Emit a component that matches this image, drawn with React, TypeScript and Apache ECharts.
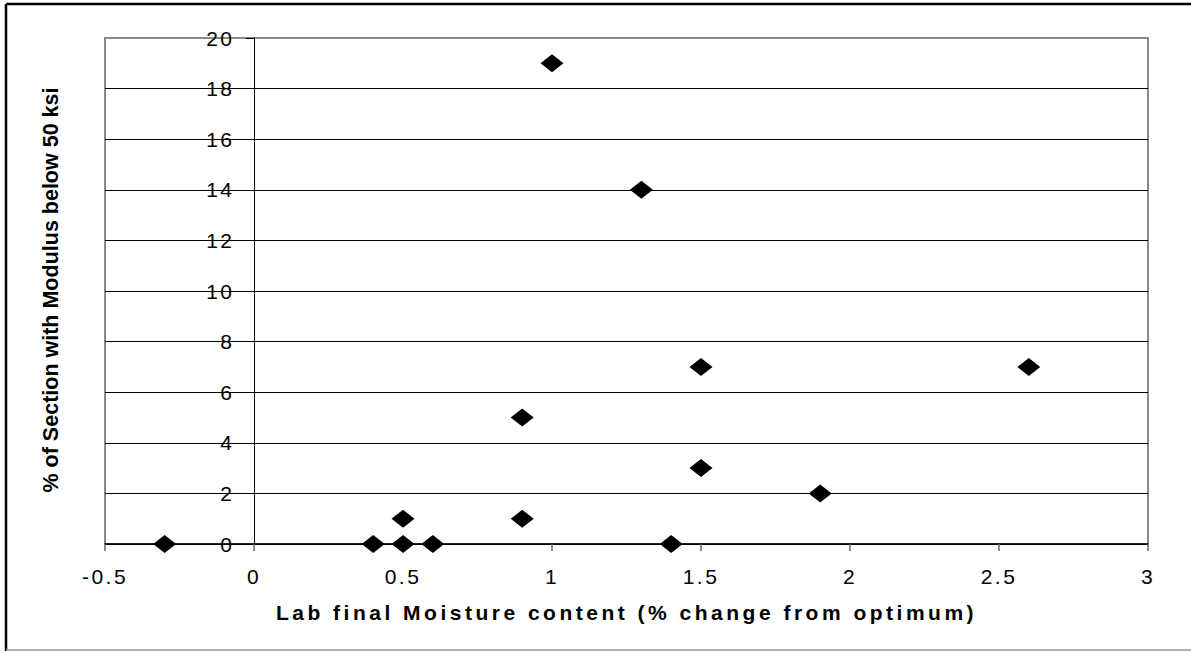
import React, { useEffect, useRef } from "react";
import * as echarts from "echarts";

const xValues = [-0.3, 0.4, 0.5, 0.5, 0.6, 0.9, 0.9, 1.0, 1.3, 1.4, 1.5, 1.5, 1.9, 2.6];
const yValues = [0, 0, 0, 1, 0, 1, 5, 19, 14, 0, 7, 3, 2, 7];
const xTitle = "Lab final Moisture content (% change from optimum)";
const yTitle = "% of Section with Modulus below 50 ksi";

export default function App() {
  const ref = useRef<HTMLDivElement>(null);
  useEffect(() => {
    if (!ref.current) return;
    const chart = echarts.init(ref.current, undefined, { renderer: "svg" });
    const points = xValues.map((x, i) => [x, yValues[i]]);
    const splitColors = ["#000", "#000", "#000", "#000", "#000", "#000", "#000", "#000", "#000", "#000", "#888"];
    chart.setOption({
      animation: false,
      backgroundColor: "#fff",
      textStyle: { fontFamily: "Liberation Sans, Arial, sans-serif" },
      grid: {
        left: 105,
        top: 38,
        width: 1043,
        height: 506,
        show: true,
        borderColor: "#888",
        borderWidth: 2,
        backgroundColor: "transparent",
      },
      xAxis: {
        type: "value",
        min: -0.5,
        max: 3,
        interval: 0.5,
        name: xTitle,
        nameLocation: "middle",
        nameGap: 58,
        nameTextStyle: {
          fontFamily: "Liberation Sans, Arial, sans-serif",
          fontWeight: "bold",
          fontSize: 21,
          color: "#000",
        },
        axisLine: { onZero: false, lineStyle: { color: "#000", width: 1.5 } },
        axisTick: { show: true, length: 7, inside: false, lineStyle: { color: "#666", width: 1.5 } },
        axisLabel: { color: "#000", fontSize: 21, margin: 22 },
        splitLine: { show: false },
      },
      yAxis: {
        type: "value",
        min: 0,
        max: 20,
        interval: 2,
        offset: -149,
        axisLine: { show: true, onZero: false, lineStyle: { color: "#000", width: 1 } },
        axisTick: { show: true, length: 8, inside: false, lineStyle: { color: "#000", width: 1 } },
        axisLabel: { color: "#000", fontSize: 21, margin: 19.5 },
        splitLine: { show: true, lineStyle: { color: splitColors, width: 1 } },
      },
      graphic: [
        {
          type: "text",
          x: 51,
          y: 290,
          rotation: Math.PI / 2,
          style: {
            text: yTitle,
            fontFamily: "Liberation Sans Narrow, Arial Narrow, sans-serif",
            fontWeight: "bold",
            fontSize: 21.5,
            fill: "#000",
            align: "center",
            verticalAlign: "middle",
          },
        },
        { type: "line", shape: { x1: 6, y1: 4, x2: 1191, y2: 4 }, style: { stroke: "#000", lineWidth: 2.5 } },
        { type: "line", shape: { x1: 6, y1: 4, x2: 6, y2: 651 }, style: { stroke: "#000", lineWidth: 2.5 } },
        { type: "line", shape: { x1: 6, y1: 650, x2: 1191, y2: 650 }, style: { stroke: "#999", lineWidth: 1.5 } },
      ],
      series: [
        {
          type: "scatter",
          data: points,
          symbol: "diamond",
          symbolSize: [23, 18],
          itemStyle: { color: "#000", opacity: 1 },
          z: 5,
        },
      ],
    });
    const applySpacing = () => {
      if (!ref.current) return;
      ref.current.querySelectorAll("text").forEach((t) => {
        const s = t.textContent || "";
        let sp = "";
        if (s === xTitle) sp = "3.5px";
        else if (s !== yTitle) sp = "2.5px";
        if (sp) {
          t.setAttribute("letter-spacing", sp);
          (t as SVGTextElement).style.letterSpacing = sp;
        }
      });
    };
    chart.getZr().flush();
    applySpacing();
    chart.on("finished", applySpacing);
    const timer = setTimeout(applySpacing, 50);
    return () => {
      clearTimeout(timer);
      chart.dispose();
    };
  }, []);
  return (
    <div
      ref={ref}
      style={{ position: "fixed", left: 0, top: 0, width: 1191, height: 651 }}
    />
  );
}
